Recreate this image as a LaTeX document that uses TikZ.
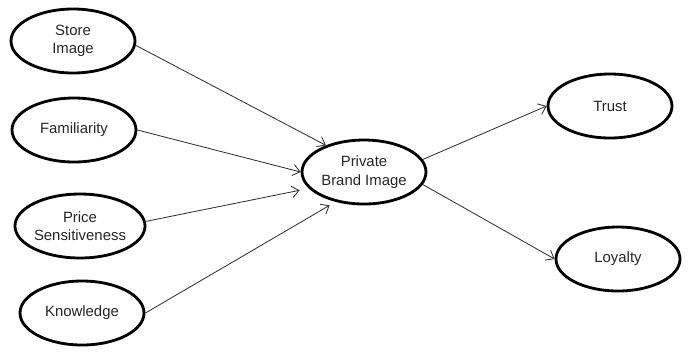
\documentclass[tikz,border=0pt]{standalone}
\usepackage{fontspec}
\setmainfont{Liberation Sans}
\usepackage{tikz}
\usetikzlibrary{shapes.geometric,arrows.meta}

\begin{document}
\begin{tikzpicture}[x=0.025cm,y=-0.025cm,>={Straight Barb[length=5pt,width=8pt]},
    construct/.style={ellipse,draw,line width=2pt,minimum width=124*0.025cm,minimum height=64*0.025cm,
      inner sep=0pt,align=center,font=\fontsize{10.6}{13}\selectfont,text=black!85},
    path/.style={->,line width=0.6pt,black!80}]
    \useasboundingbox (0,0) rectangle (688,351);
    \node[construct] (store) at (73,41) {Store\\Image};
    \node[construct] (fam) at (74,130) {Familiarity};
    \node[construct] (price) at (80,226) {Price\\Sensitiveness};
    \node[construct] (know) at (82,313) {Knowledge};
    \node[construct] (pbi) at (364,172) {Private\\Brand Image};
    \node[construct] (trust) at (610,106) {Trust};
    \node[construct] (loyal) at (618,259) {Loyalty};
    \draw[path] (store.-4) -- (pbi.145);
    \draw[path] (fam.east) -- (pbi.west);
    \draw[path] (price.4) -- ([xshift=-8]pbi.199);
    \draw[path] (know.east) -- ([shift={(-4,4)}]pbi.224);
    \draw[path] (pbi.12) -- (trust.west);
    \draw[path] (pbi.-12) -- (loyal.west);
  \end{tikzpicture}
\end{document}
